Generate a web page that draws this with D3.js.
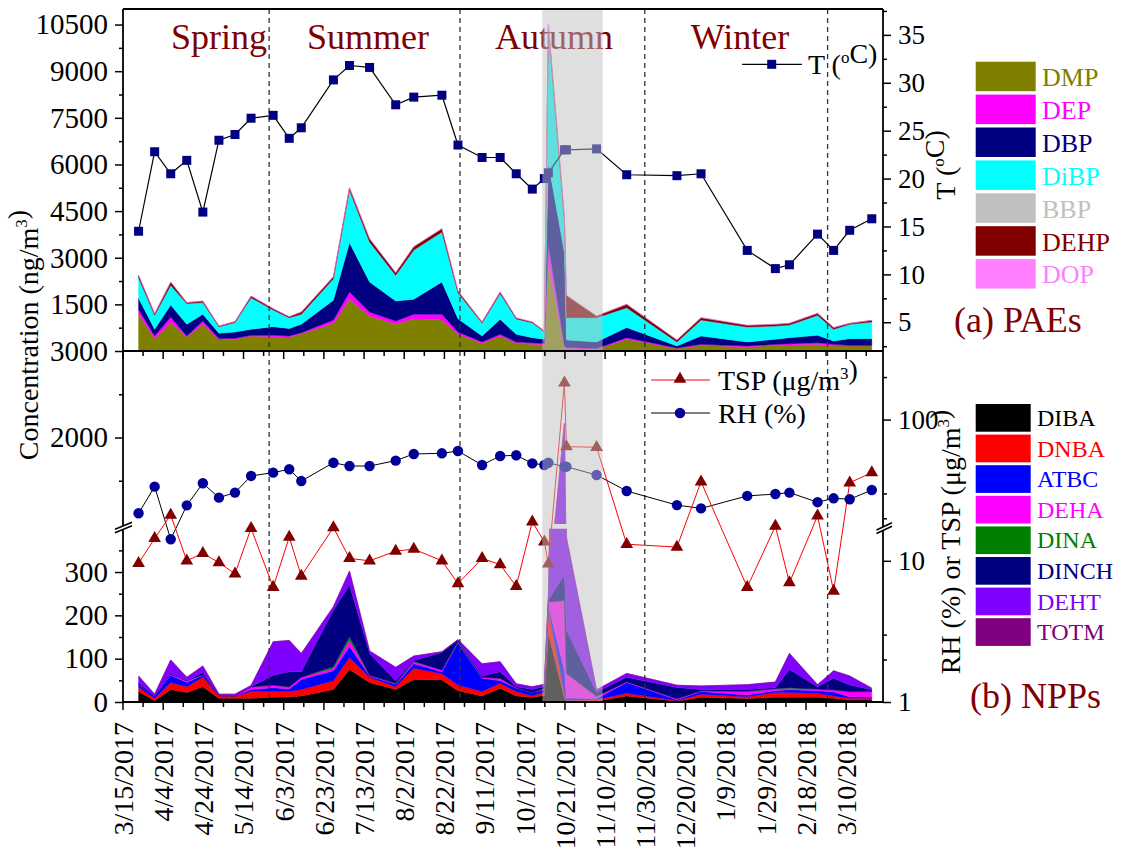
<!DOCTYPE html>
<html><head><meta charset="utf-8">
<script src="https://cdn.jsdelivr.net/npm/d3@7"></script>
<style>body{margin:0;background:#fff}svg{display:block}svg text{font-family:"Liberation Serif","Times New Roman",serif !important}</style>
</head><body><svg id="c" width="1121" height="852"></svg>
<script>
// ---------------- DATA ----------------
const sampleDates = ["3/23/2017","3/31/2017","4/8/2017","4/16/2017","4/24/2017","5/2/2017","5/10/2017","5/18/2017","5/29/2017","6/6/2017","6/12/2017","6/28/2017","7/6/2017","7/16/2017","7/29/2017","8/7/2017","8/21/2017","8/29/2017","9/10/2017","9/19/2017","9/27/2017","10/5/2017","10/11/2017","10/13/2017","10/21/2017","10/22/2017","11/6/2017","11/21/2017","12/16/2017","12/28/2017","1/20/2018","2/3/2018","2/10/2018","2/24/2018","3/4/2018","3/12/2018","3/23/2018"];
// PAEs (ng/m3)
const DMP  = [1180,400,913,450,858,354,376,482,462,450,558,890,1662,1125,858,1041,996,536,247,482,247,214,200,2800,100,77,55,376,77,183,129,183,194,214,161,161,161];
const DEP  = [160,82,180,32,106,46,32,22,42,32,32,106,235,128,106,139,184,75,43,54,43,54,40,630,60,32,22,54,20,31,32,31,42,54,53,22,22];
const DBP  = [354,216,386,376,216,169,203,194,280,238,268,634,1587,965,643,482,1038,430,192,483,246,162,136,2620,3000,245,213,322,64,268,129,162,194,236,108,215,215];
const DiBP = [664,450,633,666,376,213,302,1018,534,353,322,697,1691,1286,826,1585,1608,836,418,831,494,480,240,4350,1000,719,783,641,129,514,481,428,406,644,376,460,535];
const BBP  = [0,0,0,0,0,0,0,0,0,0,0,0,0,0,0,0,0,0,0,0,0,0,0,0,0,0,0,0,0,0,0,0,0,0,0,0,0];
const DEHP = [75,54,106,32,51,20,32,52,44,32,73,64,77,109,87,109,108,52,33,47,33,23,27,100,140,717,52,107,64,77,55,54,54,64,54,32,53];
const DOP  = [0,0,0,0,0,0,0,0,0,0,0,0,0,0,0,0,0,0,0,0,0,0,0,0,0,0,0,0,0,0,0,0,0,0,0,0,0];
// NPPs
const DIBA  = [24,3,29,22,35,8.5,8.5,8.5,11,12,14,29,75,45,29,52,51,26,14,32,14,11,15,158,10,2,2,14,1.5,11,8,11,11,11,8.5,4.6,4.6];
const DNBA  = [10,5.5,16,13,22,5.5,5.5,15.5,13,12,15,20,28,12,6,26,14,13,10,11,10,3,8,58,10,2,3,6,1.5,7,4,11,11,9,5.5,3.9,3.9];
const ATBC  = [5,5.5,17,10,5,1,0,5,9,6,23,23,25,3,6,10,5,98,31,6,8,8,5,5,54,5,3,25,2,6,4,4,6,6,9,3.5,2.5];
const DEHA  = [1,0,2,4,1,0,0,6,6,5,5,6,15,2,2,5,4,1,2,6,1,0,3,10,160,57,5,2,2.7,2,8,4,4,3,5,12,13];
const DINA  = [0,0,0,0,0,0,0,0,0,0,0,4,8,0,0,1,0,2,0,0,0,0,0,0,0,0,0,0,0,0,1,1,1,1,0,0,0];
const DINCH = [3,0,2,0,5,0,0,0,23,35,13,130,119,50,6,2,40,3,3,15,2,7,5,5,60,100,10,10,26,3,4,2,42,5,27,15,4];
const DEHT  = [17,4,31,8,15,3,4,3,77,72,42,8,32,6,31,10,2,1,28,23,7,6,5,10,1870,214,5,9,5,8,11,13,37,5,17,21,4];
const TOTM  = [0,0,0,0,0,0,0,0,0,0,0,0,0,0,0,0,0,0,0,0,0,0,0,0,0,0,0,0,0,0,0,0,0,0,0,0,0];
// Meteorology
const T   = [14.5,22.8,20.5,21.9,16.5,24.0,24.6,26.3,26.6,24.2,25.3,30.3,31.8,31.6,27.7,28.5,28.7,23.5,22.2,22.2,20.5,18.9,20.0,20.6,23.0,23.0,23.1,20.4,20.3,20.5,12.5,10.6,11.0,14.2,12.5,14.6,15.8];
const RH  = [21.7,33.5,14.2,24.7,35.4,28.0,30.4,39.9,42.1,44.5,36.7,49.5,46.9,46.9,51.2,57.1,57.7,59.9,47.7,55.2,55.9,49.0,47.7,49.5,46.4,46.4,40.5,31.2,24.8,23.5,28.8,29.7,30.4,26.0,27.7,27.3,31.7];
const TSP = [9.6,14.4,21.1,10.0,11.3,9.7,8.1,17.0,6.5,14.7,7.8,17.2,10.4,10.0,11.7,12.1,10.0,6.9,10.4,9.4,6.6,18.9,13.6,9.5,182,64.3,63.7,13.1,12.5,36.3,6.5,17.6,7.0,20.8,6.1,35.7,42.1];

const paeKeys = ["DMP","DEP","DBP","DiBP","BBP","DEHP","DOP"];
const paeColors = ["#808000","#ff00ff","#000080","#00ffff","#c0c0c0","#800000","#ff80ff"];
const nppKeys = ["DIBA","DNBA","ATBC","DEHA","DINA","DINCH","DEHT","TOTM"];
const nppColors = ["#000000","#ff0000","#0000ff","#ff00ff","#008000","#000080","#8000ff","#800080"];

const xTickLabels = ["3/15/2017","4/4/2017","4/24/2017","5/14/2017","6/3/2017","6/23/2017","7/13/2017","8/2/2017","8/22/2017","9/11/2017","10/1/2017","10/21/2017","11/10/2017","11/30/2017","12/20/2017","1/9/2018","1/29/2018","2/18/2018","3/10/2018"];
const xDomain = ["3/15/2017","3/28/2018"];
const seasonBounds = ["5/27/2017","8/30/2017","11/30/2017","3/1/2018"];
const seasonNames = ["Spring","Summer","Autumn","Winter"];
const bandDates = ["10/10/2017","11/9/2017"];
const concTicks = [1500,3000,4500,6000,7500,9000,10500];
const concMinor = [750,2250,3750,5250,6750,8250,9750];
const lowTicks = [0,100,200,300], lowMinor=[50,150,250,350];
const highTicks = [2000,3000], highMinor=[1500,2500];
const tTicks = [5,10,15,20,25,30,35], tMinor=[2.5,7.5,12.5,17.5,22.5,27.5,32.5,37.5];
const logTicks = [1,10,100], logMinor=[2,3,20,30,200];

// ---------------- SETUP ----------------
const FONT = '"Liberation Serif","Times New Roman",serif';
const svg = d3.select("#c").attr("font-family", FONT);
const parse = d3.timeParse("%m/%d/%Y");
const dates = sampleDates.map(parse);
const L=123, R=883, TOP=9, MID=351, BOT=702;

const x = d3.scaleTime().domain([parse(xDomain[0]), d3.timeHour.offset(parse(xDomain[1]),14)]).range([122.5, R]);
const yTop = d3.scaleLinear().domain([0,11000]).range([MID, TOP]);
const yT = d3.scaleLinear().domain([2,37.7]).range([MID, TOP]);
const yLow = d3.scaleLinear().domain([0,400]).range([BOT, 528.7]);
const yHigh = d3.scaleLinear().domain([1000,3000]).range([524, MID]);
const yLog = d3.scaleLog().domain([1,306]).range([BOT, MID]);

const defs = svg.append("defs");
function clip(id,y0,y1){defs.append("clipPath").attr("id",id).append("rect").attr("x",L).attr("y",y0).attr("width",R-L).attr("height",y1-y0);}
clip("cTop",TOP,MID); clip("cLow",528.7,BOT); clip("cHigh",MID,524); clip("cAll",TOP,BOT);

// PAE stacked areas
const paeSrc = {DMP,DEP,DBP,DiBP,BBP,DEHP,DOP};
const paeRows = dates.map((d,i)=>{const o={date:d}; paeKeys.forEach(k=>o[k]=paeSrc[k][i]); return o;});
const paeStack = d3.stack().keys(paeKeys)(paeRows);
const aTop = d3.area().x(d=>x(d.data.date)).y0(d=>yTop(d[0])).y1(d=>yTop(d[1]));
svg.append("g").attr("clip-path","url(#cTop)").selectAll("path").data(paeStack).join("path")
  .attr("d",aTop).attr("fill",(d,i)=>paeColors[i]).attr("stroke",(d,i)=>paeColors[i]).attr("stroke-width",0.4);

// NPP stacked areas, broken axis
const nppSrc = {DIBA,DNBA,ATBC,DEHA,DINA,DINCH,DEHT,TOTM};
const nppRows = dates.map((d,i)=>{const o={date:d}; nppKeys.forEach(k=>o[k]=nppSrc[k][i]); return o;});
const nppStack = d3.stack().keys(nppKeys)(nppRows);
[[yLow,"cLow"],[yHigh,"cHigh"]].forEach(([sc,cid])=>{
  const ar = d3.area().x(d=>x(d.data.date)).y0(d=>sc(d[0])).y1(d=>sc(d[1]));
  svg.append("g").attr("clip-path",`url(#${cid})`).selectAll("path").data(nppStack).join("path")
    .attr("d",ar).attr("fill",(d,i)=>nppColors[i]).attr("stroke",(d,i)=>nppColors[i]).attr("stroke-width",0.4);
});

// season dashed lines
svg.append("g").selectAll("line").data(seasonBounds.map(parse)).join("line")
  .attr("x1",d=>x(d)).attr("x2",d=>x(d)).attr("y1",TOP).attr("y2",BOT)
  .attr("stroke","#333").attr("stroke-width",1.3).attr("stroke-dasharray","5,4");
const seasonX=[219,368,554,740];
svg.append("g").selectAll("text").data(seasonNames).join("text")
  .attr("x",(d,i)=>seasonX[i]).attr("y",49).attr("text-anchor","middle")
  .attr("font-size",36).attr("fill","#800000").text(d=>d);

// T line
const g = svg.append("g").attr("clip-path","url(#cAll)");
g.append("path").datum(T).attr("fill","none").attr("stroke","#000").attr("stroke-width",1.2)
  .attr("d",d3.line().x((d,i)=>x(dates[i])).y(d=>yT(d)));
g.selectAll("rect.t").data(T).join("rect").attr("class","t")
  .attr("x",(d,i)=>x(dates[i])-4.5).attr("y",d=>yT(d)-4.5).attr("width",9).attr("height",9).attr("fill","#000080");
g.append("path").datum(RH).attr("fill","none").attr("stroke","#000").attr("stroke-width",1)
  .attr("d",d3.line().x((d,i)=>x(dates[i])).y(d=>yLog(d)));
g.append("path").datum(TSP).attr("fill","none").attr("stroke","#ff0000").attr("stroke-width",1)
  .attr("d",d3.line().x((d,i)=>x(dates[i])).y(d=>yLog(d)));
g.selectAll("circle.rh").data(RH).join("circle").attr("class","rh")
  .attr("cx",(d,i)=>x(dates[i])).attr("cy",d=>yLog(d)).attr("r",5.2).attr("fill","#000099");
const tri = d3.symbol().type(d3.symbolTriangle).size(70);
g.selectAll("path.tsp").data(TSP).join("path").attr("class","tsp")
  .attr("transform",(d,i)=>`translate(${x(dates[i])},${yLog(d)})`).attr("d",tri).attr("fill","#800000");

// in-plot legends
function sup(t, parts){ parts.forEach(p=>{ if(p.s){ t.append("tspan").attr("dy",-11).attr("font-size",17).text(p.s); t.append("tspan").attr("dy",11).text(""); } else t.append("tspan").text(p.t); }); }
svg.append("line").attr("x1",742).attr("x2",802).attr("y1",64.3).attr("y2",64.3).attr("stroke","#000").attr("stroke-width",1.2);
svg.append("rect").attr("x",767.2).attr("y",59.8).attr("width",9).attr("height",9).attr("fill","#000080");
sup(svg.append("text").attr("x",808).attr("y",74).attr("font-size",28),[{t:"T ("},{s:"o"},{t:"C)"}]);
svg.append("line").attr("x1",651).attr("x2",710).attr("y1",380).attr("y2",380).attr("stroke","#ff0000");
svg.append("path").attr("transform","translate(680,379)").attr("d",tri).attr("fill","#800000");
sup(svg.append("text").attr("x",718).attr("y",390).attr("font-size",28),[{t:"TSP (μg/m"},{s:"3"},{t:")"}]);
svg.append("line").attr("x1",651).attr("x2",710).attr("y1",413).attr("y2",413).attr("stroke","#000");
svg.append("circle").attr("cx",680).attr("cy",413).attr("r",5.2).attr("fill","#000099");
svg.append("text").attr("x",718).attr("y",422.5).attr("font-size",28).text("RH (%)");

// grey band
const bd = bandDates.map(parse);
svg.append("rect").attr("x",x(bd[0])).attr("y",TOP).attr("width",x(bd[1])-x(bd[0])).attr("height",BOT-TOP)
  .attr("fill","#c0c0c0").attr("opacity",0.5);

// frame
const fr = svg.append("g").attr("stroke","#000").attr("stroke-width",1.8);
fr.append("line").attr("x1",L).attr("x2",L).attr("y1",TOP).attr("y2",BOT);
fr.append("line").attr("x1",R).attr("x2",R).attr("y1",TOP).attr("y2",BOT);
fr.append("line").attr("x1",L).attr("x2",R).attr("y1",TOP).attr("y2",TOP);
fr.append("line").attr("x1",L).attr("x2",R).attr("y1",MID).attr("y2",MID);
fr.append("line").attr("x1",L-1).attr("x2",R+1).attr("y1",BOT).attr("y2",BOT);

function axis(gen, tx, ty, fs){
  const a = svg.append("g").attr("transform",`translate(${tx},${ty})`).call(gen);
  a.attr("font-family",FONT).attr("font-size",fs||28);
  a.select(".domain").remove();
  a.selectAll(".tick line").attr("stroke","#000").attr("stroke-width",1.5);
  a.selectAll(".tick text").attr("fill","#000");
  return a;
}
const fmt = d3.format("d");
axis(d3.axisLeft(yTop).tickValues(concTicks).tickSize(8).tickPadding(7).tickFormat(fmt),L,0,29);
axis(d3.axisLeft(yTop).tickValues(concMinor).tickSize(4).tickFormat(""),L,0);
axis(d3.axisLeft(yLow).tickValues(lowTicks).tickSize(8).tickPadding(7).tickFormat(fmt),L,0,29);
axis(d3.axisLeft(yLow).tickValues(lowMinor).tickSize(4).tickFormat(""),L,0);
axis(d3.axisLeft(yHigh).tickValues(highTicks).tickSize(8).tickPadding(7).tickFormat(fmt),L,0,29);
axis(d3.axisLeft(yHigh).tickValues(highMinor).tickSize(4).tickFormat(""),L,0);
axis(d3.axisRight(yT).tickValues(tTicks).tickSize(8).tickPadding(7).tickFormat(fmt),R,0,27);
axis(d3.axisRight(yT).tickValues(tMinor).tickSize(4).tickFormat(""),R,0);
axis(d3.axisRight(yLog).tickValues(logTicks).tickSize(8).tickPadding(7).tickFormat(fmt),R,0,27);
axis(d3.axisRight(yLog).tickValues(logMinor).tickSize(4).tickFormat(""),R,0);

const xt = xTickLabels.map(parse);
const xMinor = xt.map(d=>d3.timeDay.offset(d,10));
const xb = axis(d3.axisBottom(x).tickValues(xt).tickSize(8).tickFormat(d3.timeFormat("%-m/%-d/%Y")),0,BOT,28);
xb.selectAll(".tick text").attr("x",-20).attr("y",0).attr("dy","0.35em").attr("text-anchor","end").attr("transform","rotate(-90)");
axis(d3.axisBottom(x).tickValues(xMinor.filter(d=>x(d)<R)).tickSize(5).tickFormat(""),0,BOT);
axis(d3.axisBottom(x).tickValues(xt).tickSize(8).tickFormat(""),0,MID);
axis(d3.axisBottom(x).tickValues(xMinor.filter(d=>x(d)<R)).tickSize(5).tickFormat(""),0,MID);

function brk(x0,x1,yb0,yb1){
  svg.append("polygon").attr("points",`${x0},${yb0+3.5} ${x1},${yb1+3.5} ${x1},${yb1} ${x0},${yb0}`).attr("fill","#fff");
  svg.append("line").attr("x1",x0).attr("y1",yb0+3.5).attr("x2",x1).attr("y2",yb1+3.5).attr("stroke","#000").attr("stroke-width",1.5);
  svg.append("line").attr("x1",x0).attr("y1",yb0).attr("x2",x1).attr("y2",yb1).attr("stroke","#000").attr("stroke-width",1.5);
}
brk(115,132,529.3,522.3);
brk(876.5,892,530,522.7);

sup(svg.append("text").attr("transform","translate(38,335) rotate(-90)").attr("text-anchor","middle").attr("font-size",28),[{t:"Concentration (ng/m"},{s:"3"},{t:")"}]);
sup(svg.append("text").attr("transform","translate(955,165) rotate(-90)").attr("text-anchor","middle").attr("font-size",28),[{t:"T ("},{s:"o"},{t:"C)"}]);
sup(svg.append("text").attr("transform","translate(960,542) rotate(-90)").attr("text-anchor","middle").attr("font-size",28),[{t:"RH (%) or TSP (μg/m"},{s:"3"},{t:")"}]);

const lg1 = svg.append("g");
paeKeys.forEach((k,i)=>{
  const y0 = 61.7 + i*32.9;
  lg1.append("rect").attr("x",975.7).attr("y",y0).attr("width",60).attr("height",29.5).attr("fill",paeColors[i]);
  lg1.append("text").attr("x",1042).attr("y",y0+24.3).attr("font-size",26).attr("fill",paeColors[i]).text(k);
});
svg.append("text").attr("x",954).attr("y",331.7).attr("font-size",36).attr("fill","#800000").text("(a) PAEs");
const lg2 = svg.append("g");
nppKeys.forEach((k,i)=>{
  const y0 = 404 + i*30.6;
  lg2.append("rect").attr("x",975.7).attr("y",y0).attr("width",55).attr("height",27.7).attr("fill",nppColors[i]);
  lg2.append("text").attr("x",1037).attr("y",y0+22).attr("font-size",24).attr("fill",nppColors[i]).text(k);
});
svg.append("text").attr("x",970).attr("y",708).attr("font-size",36).attr("fill","#800000").text("(b) NPPs");
</script></body></html>
